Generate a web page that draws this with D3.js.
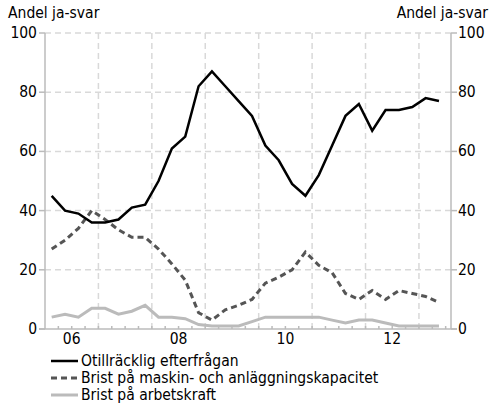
<!DOCTYPE html>
<meta charset="utf-8">
<style>
body { margin: 0; background: #fff; }
svg { display: block; font-family: "DejaVu Sans Condensed", "DejaVu Sans", sans-serif; }
.tick-label { font-size: 15.5px; fill: #000; }
.legend text { font-size: 15.5px; fill: #000; }
</style>
<svg width="491" height="405"></svg>
<script src="https://cdn.jsdelivr.net/npm/d3@7"></script>
<script>
// kvartal 2006K1 - 2013K2
var quarters = ["2006K1","2006K2","2006K3","2006K4","2007K1","2007K2","2007K3","2007K4",
                "2008K1","2008K2","2008K3","2008K4","2009K1","2009K2","2009K3","2009K4",
                "2010K1","2010K2","2010K3","2010K4","2011K1","2011K2","2011K3","2011K4",
                "2012K1","2012K2","2012K3","2012K4","2013K1","2013K2"];

var efterfragan = [45, 40, 39, 36, 36, 37, 41, 42, 50, 61, 65, 82, 87, 82, 77, 72,
                   62, 57, 49, 45, 52, 62, 72, 76, 67, 74, 74, 75, 78, 77];
var kapacitet   = [27, 30, 34, 40, 37, 33.5, 31, 31, 27, 22, 16.5, 5.5, 3, 6.5, 8, 10,
                   15.5, 17.5, 20, 26, 21.5, 19, 12, 10, 13, 10, 13, 12, 11, 9];
var arbetskraft = [4, 5, 4, 7, 7, 5, 6, 8, 4, 4, 3.5, 1.5, 1, 1, 1, 2.5,
                   4, 4, 4, 4, 4, 3, 2, 3, 3, 2, 1, 1, 1, 1];

var yearLabels = ["06", "08", "10", "12"];
var yTicks = [0, 20, 40, 60, 80, 100];
var seriesNames = ["Otillräcklig efterfrågan", "Brist på maskin- och anläggningskapacitet", "Brist på arbetskraft"];

var svg = d3.select("svg");
var pLeft = 45, pRight = 451, pTop = 33, pBottom = 329;

function qTime(q) {
    return +q.slice(0, 4) + (+q.slice(5) - 0.5) / 4;
}

var x = d3.scaleLinear().domain([2006, 2013.6]).range([pLeft, pRight]);
var y = d3.scaleLinear().domain([0, 100]).range([pBottom, pTop]);

var grid = svg.append("g")
    .attr("stroke", "#d9d9d9").attr("stroke-width", 1.5).attr("stroke-dasharray", "6,4");

// horisontella stödlinjer
grid.selectAll("line.h")
    .data(yTicks.filter(function(d) { return d > 0; }))
    .enter().append("line")
        .attr("x1", pLeft).attr("x2", pRight)
        .attr("y1", function(d) { return y(d); })
        .attr("y2", function(d) { return y(d); });

// vertikala vid årsskiften
grid.selectAll("line.v")
    .data(d3.range(2007, 2014))
    .enter().append("line")
        .attr("x1", function(d) { return x(d); })
        .attr("x2", function(d) { return x(d); })
        .attr("y1", pTop).attr("y2", pBottom);

var axis = svg.append("g").attr("stroke", "#bbb").attr("stroke-width", 1.5);

axis.append("line").attr("x1", pLeft).attr("x2", pLeft).attr("y1", pTop).attr("y2", pBottom);
axis.append("line").attr("x1", pRight).attr("x2", pRight).attr("y1", pTop).attr("y2", pBottom);
axis.append("line").attr("x1", pLeft - 6).attr("x2", pRight + 6).attr("y1", pBottom).attr("y2", pBottom);

axis.selectAll("line.lt")
    .data(yTicks)
    .enter().append("line")
        .attr("x1", pLeft - 6).attr("x2", pLeft)
        .attr("y1", function(d) { return y(d); })
        .attr("y2", function(d) { return y(d); });
axis.selectAll("line.rt")
    .data(yTicks)
    .enter().append("line")
        .attr("x1", pRight).attr("x2", pRight + 6)
        .attr("y1", function(d) { return y(d); })
        .attr("y2", function(d) { return y(d); });

// kvartalsmarkeringar
axis.selectAll("line.qt")
    .data(d3.range(1, 31).map(function(i) { return 2006 + i / 4; }))
    .enter().append("line")
        .attr("x1", function(d) { return x(d); })
        .attr("x2", function(d) { return x(d); })
        .attr("y1", pBottom - 3).attr("y2", pBottom);

svg.selectAll("text.yl")
    .data(yTicks)
    .enter().append("text")
        .attr("class", "tick-label")
        .attr("x", pLeft - 8)
        .attr("y", function(d) { return y(d) + 5; })
        .attr("text-anchor", "end")
        .text(function(d) { return d; });
svg.selectAll("text.yr")
    .data(yTicks)
    .enter().append("text")
        .attr("class", "tick-label")
        .attr("x", pRight + 7)
        .attr("y", function(d) { return y(d) + 5; })
        .text(function(d) { return d; });

svg.selectAll("text.xl")
    .data(yearLabels)
    .enter().append("text")
        .attr("class", "tick-label")
        .attr("x", function(d) { return x(2000 + +d + 0.5); })
        .attr("y", pBottom + 15)
        .attr("text-anchor", "middle")
        .text(function(d) { return d; });

svg.append("text").attr("class", "tick-label").attr("x", 8).attr("y", 18).text("Andel ja-svar");
svg.append("text").attr("class", "tick-label").attr("x", 488).attr("y", 18)
    .attr("text-anchor", "end").text("Andel ja-svar");

var series = [
    { name: seriesNames[0], values: efterfragan, color: "#000", width: 2.5, dash: null },
    { name: seriesNames[1], values: kapacitet, color: "#555", width: 3, dash: "6,4" },
    { name: seriesNames[2], values: arbetskraft, color: "#bbb", width: 3, dash: null }
];

var line = d3.line()
    .x(function(d, i) { return x(qTime(quarters[i])); })
    .y(function(d) { return y(d); });

series.slice().reverse().forEach(function(s) {
    svg.append("path")
        .datum(s.values)
        .attr("fill", "none")
        .attr("stroke", s.color)
        .attr("stroke-width", s.width)
        .attr("stroke-dasharray", s.dash)
        .attr("d", line);
});

var legend = svg.append("g").attr("class", "legend");
series.forEach(function(s, i) {
    var ly = 361 + i * 17;
    legend.append("line")
        .attr("x1", 51).attr("x2", 78).attr("y1", ly).attr("y2", ly)
        .attr("stroke", s.color).attr("stroke-width", s.width)
        .attr("stroke-dasharray", s.dash);
    legend.append("text").attr("x", 81).attr("y", ly + 5).text(s.name);
});
</script>
